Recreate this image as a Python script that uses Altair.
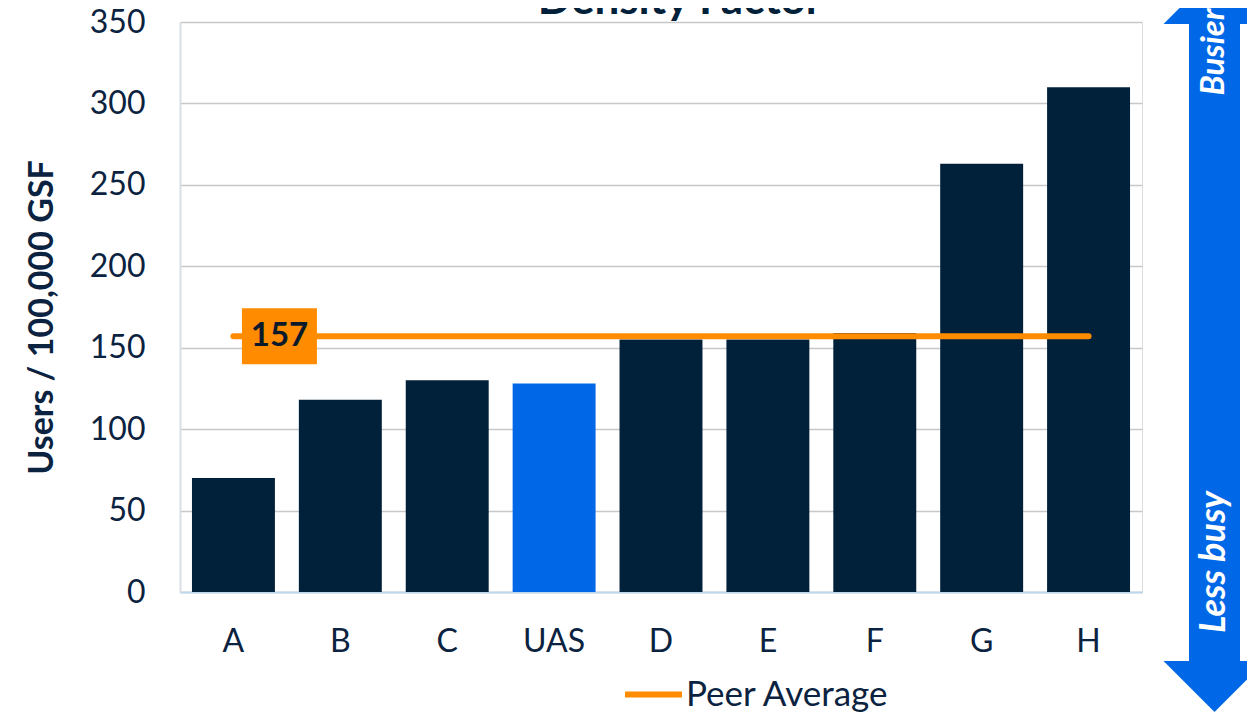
import altair as alt
import pandas as pd

categories = ["A", "B", "C", "UAS", "D", "E", "F", "G", "H"]
values = [70, 118, 130, 128, 155, 155, 159, 263, 310]
peer_average = 157
y_ticks = [0, 50, 100, 150, 200, 250, 300, 350]

NAVY = "#012039"
BLUE = "#0068E6"
ORANGE = "#FF8C00"
TEXT = "#0B2340"
FONT = "Lato"

bars_df = pd.DataFrame({"category": categories, "value": values})
avg_df = pd.DataFrame({"category": categories, "avg": [peer_average] * len(categories),
                       "series": ["Peer Average"] * len(categories)})
label_df = pd.DataFrame({"category": [categories[0]], "avg": [peer_average],
                         "label": [str(peer_average)]})
one = pd.DataFrame({"k": [0]})

x_enc = alt.X("category:N", sort=categories,
              scale=alt.Scale(paddingInner=0.224, paddingOuter=0.112),
              axis=alt.Axis(title=None, labelAngle=0, labelFont=FONT, labelFontSize=32,
                            labelColor=TEXT, tickSize=0, labelPadding=34,
                            domainColor="#BDD7EE", domainWidth=2, grid=False))
y_scale = alt.Scale(domain=[0, 350], nice=False)

bars = alt.Chart(bars_df).mark_bar().encode(
    x=x_enc,
    y=alt.Y("value:Q", scale=y_scale,
            axis=alt.Axis(values=y_ticks, title="Users / 100,000 GSF",
                          titleFont=FONT, titleFontSize=34, titleFontWeight="bold",
                          titleColor=TEXT, titleX=-128, titleY=295, titleAngle=270,
                          titleBaseline="alphabetic", titleAlign="center",
                          labelFont=FONT, labelFontSize=32, labelColor=TEXT,
                          tickSize=0, labelPadding=35, grid=True,
                          gridColor="#C8C8C8", gridWidth=1.5,
                          domainColor="#D9DEE6", domainWidth=2)),
    color=alt.condition(alt.datum.category == "UAS", alt.value(BLUE), alt.value(NAVY)),
)

line = alt.Chart(avg_df).mark_line(strokeWidth=6, strokeCap="round").encode(
    x=alt.X("category:N", sort=categories),
    y=alt.Y("avg:Q", scale=y_scale),
    color=alt.Color("series:N", scale=alt.Scale(range=[ORANGE]),
                    legend=alt.Legend(title=None, orient="none", legendX=442, legendY=641,
                                      symbolType="stroke", symbolStrokeWidth=6,
                                      symbolSize=3249, labelFont=FONT, labelFontSize=35,
                                      labelColor=TEXT, labelOffset=1, labelLimit=400,
                                      padding=0)),
)

box = alt.Chart(label_df).mark_point(
    shape="M-1,-0.747L1,-0.747L1,0.747L-1,0.747Z", size=5625, filled=True,
    opacity=1, color=ORANGE, strokeWidth=0, xOffset=46
).encode(x=alt.X("category:N", sort=categories), y=alt.Y("avg:Q", scale=y_scale))

box_text = alt.Chart(label_df).mark_text(
    dx=46, font=FONT, fontSize=33, fontWeight="bold", color="#0B1A2A", baseline="middle"
).encode(x=alt.X("category:N", sort=categories), y=alt.Y("avg:Q", scale=y_scale),
         text="label:N")

title = alt.Chart(one).mark_text(
    text="Density Factor", font=FONT, fontSize=44, fontWeight="bold", color=NAVY,
    baseline="alphabetic", align="center"
).encode(x=alt.value(500), y=alt.value(-8))

shaft = alt.Chart(one).mark_rule(color=BLUE, strokeWidth=51, strokeCap="butt").encode(
    x=alt.value(1034.5), y=alt.value(-40), y2=alt.value(640))
head_up = alt.Chart(one).mark_point(
    shape="M-1,0L1,0L0,-1Z", size=10404, filled=True, opacity=1, color=BLUE, strokeWidth=0
).encode(x=alt.value(1034.5), y=alt.value(2))
head_down = alt.Chart(one).mark_point(
    shape="M-1,0L1,0L0,1Z", size=10404, filled=True, opacity=1, color=BLUE, strokeWidth=0
).encode(x=alt.value(1034.5), y=alt.value(639))
busier = alt.Chart(one).mark_text(
    text="Busier", font=FONT, fontSize=33, fontWeight="bold", fontStyle="italic",
    color="white", angle=270, align="center", baseline="middle"
).encode(x=alt.value(1034), y=alt.value(30))
less = alt.Chart(one).mark_text(
    text="Less busy", font=FONT, fontSize=36, fontWeight="bold", fontStyle="italic",
    color="white", angle=270, align="center", baseline="middle"
).encode(x=alt.value(1034), y=alt.value(540))

chart = alt.layer(bars, line, box, box_text, title, shaft, head_up, head_down, busier, less).properties(
    width=962, height=570,
    autosize=alt.AutoSizeParams(type="none"),
    padding={"left": 172, "top": 14, "right": 105, "bottom": 120},
).configure_view(stroke="#C6C6C6", strokeWidth=1.5).configure(background="white")

chart.save("out.html", embed_options={"renderer": "svg", "actions": False})
